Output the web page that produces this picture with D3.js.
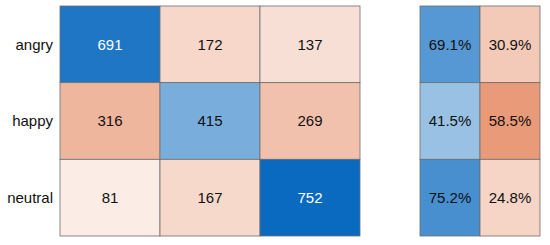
<!DOCTYPE html>
<html>
<head>
<meta charset="utf-8">
<script src="https://cdn.jsdelivr.net/npm/d3@7"></script>
<style>
  body { margin: 0; background: #fff; }
  text { font-family: "Liberation Sans", Arial, sans-serif; }
</style>
</head>
<body>
<svg width="550" height="245"></svg>
<script>
  var classes = ["angry", "happy", "neutral"];
  var counts = [
    [691, 172, 137],
    [316, 415, 269],
    [81, 167, 752]
  ];
  var rowPct = [
    [69.1, 30.9],
    [41.5, 58.5],
    [75.2, 24.8]
  ];
  var pctLabels = [
    ["69.1%", "30.9%"],
    ["41.5%", "58.5%"],
    ["75.2%", "24.8%"]
  ];

  var svg = d3.select("svg");

  var y = d3.scaleBand().domain(classes).range([6, 236]);
  var x = d3.scaleBand().domain(d3.range(3)).range([60, 360]);
  var xs = d3.scaleBand().domain(d3.range(2)).range([420, 540]);

  var maxCount = d3.max(counts, function(r) { return d3.max(r); });
  var blue = d3.scaleLinear().domain([0, maxCount]).range(["#ffffff", "#0a6abf"]);
  var red = d3.scaleLinear().domain([0, maxCount]).range(["#ffffff", "#d95219"]);
  var blueP = d3.scaleLinear().domain([0, 100]).range(["#ffffff", "#0a6abf"]);
  var redP = d3.scaleLinear().domain([0, 100]).range(["#ffffff", "#d95219"]);

  var cells = [];
  counts.forEach(function(row, i) {
    row.forEach(function(v, j) { cells.push({ i: i, j: j, v: v }); });
  });

  var g = svg.append("g");
  g.selectAll("rect.cell")
    .data(cells)
    .enter().append("rect")
    .attr("class", "cell")
    .attr("x", function(d) { return x(d.j); })
    .attr("y", function(d) { return y(classes[d.i]); })
    .attr("width", x.bandwidth())
    .attr("height", y.bandwidth())
    .attr("fill", function(d) { return d.i === d.j ? blue(d.v) : red(d.v); })
    .attr("stroke", "#6e6e6e")
    .attr("stroke-width", 0.8);

  g.selectAll("text.cell")
    .data(cells)
    .enter().append("text")
    .attr("class", "cell")
    .attr("x", function(d) { return x(d.j) + x.bandwidth() / 2; })
    .attr("y", function(d) { return y(classes[d.i]) + y.bandwidth() / 2; })
    .attr("text-anchor", "middle")
    .attr("dy", "0.35em")
    .attr("font-size", 15)
    .attr("fill", function(d) { return d.i === d.j && d.v / maxCount > 0.7 ? "#fff" : "#111"; })
    .text(function(d) { return d.v; });

  // row labels
  svg.selectAll("text.row")
    .data(classes)
    .enter().append("text")
    .attr("class", "row")
    .attr("x", 53)
    .attr("y", function(d) { return y(d) + y.bandwidth() / 2; })
    .attr("text-anchor", "end")
    .attr("dy", "0.35em")
    .attr("font-size", 15)
    .attr("fill", "#111")
    .text(function(d) { return d; });

  // row summary
  var pcells = [];
  rowPct.forEach(function(row, i) {
    row.forEach(function(v, j) { pcells.push({ i: i, j: j, v: v, label: pctLabels[i][j] }); });
  });

  var s = svg.append("g");
  s.selectAll("rect")
    .data(pcells)
    .enter().append("rect")
    .attr("x", function(d) { return xs(d.j); })
    .attr("y", function(d) { return y(classes[d.i]); })
    .attr("width", xs.bandwidth())
    .attr("height", y.bandwidth())
    .attr("fill", function(d) { return d.j === 0 ? blueP(d.v) : redP(d.v); })
    .attr("stroke", "#6e6e6e")
    .attr("stroke-width", 0.8);

  s.selectAll("text")
    .data(pcells)
    .enter().append("text")
    .attr("x", function(d) { return xs(d.j) + xs.bandwidth() / 2; })
    .attr("y", function(d) { return y(classes[d.i]) + y.bandwidth() / 2; })
    .attr("text-anchor", "middle")
    .attr("dy", "0.35em")
    .attr("font-size", 15)
    .attr("fill", "#111")
    .text(function(d) { return d.label; });
</script>
</body>
</html>
